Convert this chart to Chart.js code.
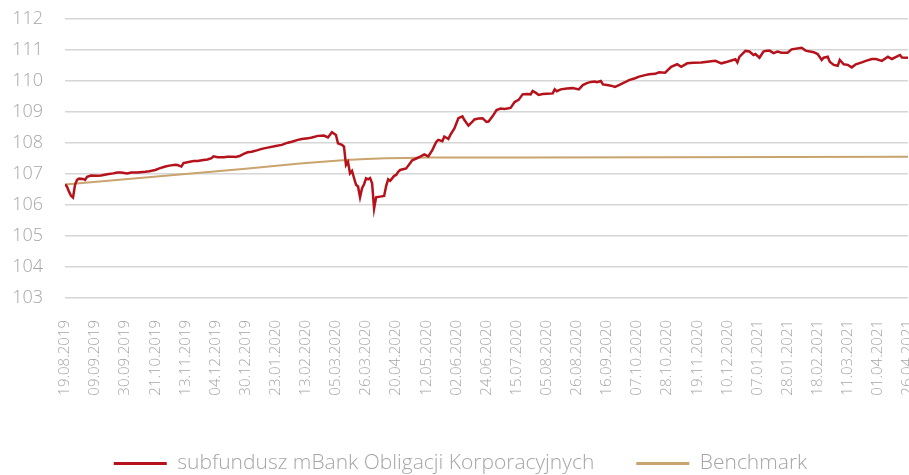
<!DOCTYPE html>
<html>
<head>
<meta charset="utf-8">
<script src="https://cdn.jsdelivr.net/npm/chart.js@4.4.1/dist/chart.umd.min.js"></script>
<style>
html,body{margin:0;padding:0;background:#fff;overflow:hidden;}
#wrap{width:909px;height:475px;}
</style>
</head>
<body>
<div id="wrap"><canvas id="c" width="909" height="475"></canvas></div>
<script>
// x tick labels (every 15th business day)
const dateLabels = ["19.08.2019","09.09.2019","30.09.2019","21.10.2019","13.11.2019","04.12.2019","30.12.2019","23.01.2020","13.02.2020","05.03.2020","26.03.2020","20.04.2020","12.05.2020","02.06.2020","24.06.2020","15.07.2020","05.08.2020","26.08.2020","16.09.2020","07.10.2020","28.10.2020","19.11.2020","10.12.2020","07.01.2021","28.01.2021","18.02.2021","11.03.2021","01.04.2021","26.04.2021"];
const yTicks = [103,104,105,106,107,108,109,110,111,112];
const seriesNames = ["subfundusz mBank Obligacji Korporacyjnych","Benchmark"];

// fund: business-day index and value
const fundIdx = [0,1,2,3,4,5,6,7,9,10,11,13,16,18,21,24,26,28,31,33,36,40,42,45,47,50,52,55,56,58,59,61,64,66,69,71,73,74,76,79,81,84,85,87,89,91,93,96,98,101,105,108,111,113,116,118,121,123,126,129,131,133,135,136,138,139,140,141,142,143,144,145,146,147,148,149,150,151,152,153,154,155,157,159,160,161,162,164,165,166,167,170,171,173,175,177,179,181,183,185,186,188,189,191,192,194,196,198,199,201,203,204,206,208,210,211,213,215,217,219,222,224,226,228,230,232,233,235,236,238,240,243,244,245,247,250,253,256,258,260,262,264,265,267,268,270,272,274,276,279,281,284,286,289,291,294,296,299,302,305,307,310,313,317,320,324,327,330,334,335,336,339,341,343,344,346,348,349,351,353,355,357,360,362,367,369,373,375,377,378,380,381,383,385,386,388,390,392,394,397,399,402,404,407,410,412,416,417,420];
const fundVal = [106.67,106.59,106.43,106.30,106.24,106.65,106.81,106.85,106.84,106.81,106.91,106.95,106.94,106.95,106.99,107.02,107.05,107.05,107.02,107.05,107.05,107.07,107.09,107.13,107.18,107.24,107.27,107.30,107.29,107.24,107.35,107.38,107.42,107.42,107.45,107.47,107.51,107.57,107.54,107.54,107.56,107.56,107.55,107.58,107.65,107.70,107.72,107.77,107.81,107.85,107.90,107.94,108.01,108.04,108.10,108.13,108.15,108.18,108.23,108.24,108.18,108.35,108.26,107.99,107.94,107.88,107.29,107.39,107.02,107.10,106.87,106.65,106.60,106.25,106.54,106.67,106.86,106.83,106.87,106.70,105.89,106.25,106.27,106.29,106.61,106.83,106.78,106.94,106.97,107.07,107.13,107.18,107.27,107.44,107.50,107.56,107.63,107.57,107.77,108.04,108.10,108.06,108.21,108.13,108.26,108.47,108.80,108.86,108.74,108.56,108.69,108.76,108.79,108.80,108.68,108.69,108.86,109.06,109.11,109.10,109.13,109.32,109.39,109.57,109.58,109.57,109.68,109.60,109.55,109.58,109.59,109.60,109.73,109.67,109.73,109.76,109.77,109.73,109.87,109.93,109.97,109.98,109.96,110.00,109.89,109.87,109.85,109.81,109.87,109.96,110.03,110.09,110.14,110.19,110.22,110.23,110.28,110.27,110.46,110.54,110.46,110.57,110.59,110.60,110.62,110.65,110.57,110.62,110.70,110.60,110.78,110.97,110.95,110.84,110.87,110.75,110.95,110.97,110.98,110.90,110.95,110.91,110.91,111.02,111.07,110.98,110.93,110.87,110.68,110.75,110.78,110.62,110.52,110.49,110.68,110.54,110.52,110.44,110.54,110.60,110.65,110.71,110.71,110.65,110.78,110.71,110.84,110.76,110.75];

// benchmark
const benchIdx = [0,30,60,90,117,130,140,150,160,170,180,230,300,360,420];
const benchVal = [106.66,106.83,107.00,107.17,107.34,107.40,107.45,107.48,107.51,107.52,107.53,107.53,107.54,107.55,107.56];

const toPts = (xs, ys) => xs.map((x, i) => ({x: x, y: ys[i]}));
const TXT = '#a6a6a6';
const FONT = "'Open Sans', 'Noto Sans', sans-serif";

const legendFit = {
  id: 'legendFit',
  beforeInit(chart) {
    const lg = chart.legend;
    if (!lg) return;
    const orig = lg.fit;
    lg.fit = function() {
      orig.call(this);
      this.height = 64;
    };
  }
};

new Chart(document.getElementById('c'), {
  type: 'line',
  data: {
    datasets: [
      {label: seriesNames[0], data: toPts(fundIdx, fundVal), borderColor: '#b5121b', backgroundColor: '#b5121b', borderWidth: 2.5, pointRadius: 0, tension: 0},
      {label: seriesNames[1], data: toPts(benchIdx, benchVal), borderColor: '#c9a46e', backgroundColor: '#c9a46e', borderWidth: 2, pointRadius: 0, tension: 0}
    ]
  },
  options: {
    responsive: false,
    animation: false,
    layout: {padding: {left: 13, right: 1, top: 19, bottom: 0}},
    scales: {
      x: {
        type: 'linear', min: 0, max: 420,
        grid: {display: false, drawTicks: false},
        border: {display: false},
        afterFit: (s) => { s.paddingLeft = 0; s.paddingRight = 0; s.height = 113; },
        ticks: {
          stepSize: 15, autoSkip: false, maxRotation: 90, minRotation: 90, padding: 22,
          color: TXT, font: {family: FONT, size: 15, weight: 300},
          callback: (v) => dateLabels[Math.round(v / 15)]
        }
      },
      y: {
        min: yTicks[0], max: yTicks[yTicks.length - 1],
        grid: {color: '#d6d6d6', lineWidth: 1.5, drawTicks: false},
        border: {display: false},
        afterBuildTicks: (ax) => { ax.ticks = yTicks.map(v => ({value: v})); },
        afterFit: (s) => { s.width = 52; s.paddingTop = 0; s.paddingBottom = 0; },
        ticks: {padding: 22, color: TXT, font: {family: FONT, size: 18, weight: 300}}
      }
    },
    plugins: {
      legend: {
        position: 'bottom',
        labels: {
          boxWidth: 53, boxHeight: 3, padding: 42, color: TXT,
          font: {family: FONT, size: 21, weight: 300},
          generateLabels: (chart) => chart.data.datasets.map((d, i) => ({
            text: d.label, fillStyle: d.borderColor, strokeStyle: d.borderColor, lineWidth: 0, datasetIndex: i, fontColor: TXT
          }))
        }
      },
      tooltip: {enabled: false}
    }
  },
  plugins: [legendFit]
});
</script>
</body>
</html>
